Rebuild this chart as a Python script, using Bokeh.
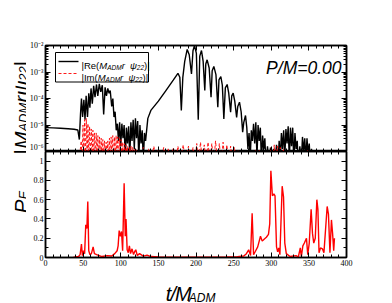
import math
from bokeh.plotting import figure
from bokeh.models import (Range1d, LinearAxis, LogAxis, FixedTicker, LogTicker,
                          CustomJSTickFormatter, Label, BoxAnnotation)
from bokeh.layouts import column, row
from bokeh.core.properties import value
from bokeh.embed import file_html
from bokeh.resources import INLINE

# ---------------- data ----------------
x_ticks = [0, 50, 100, 150, 200, 250, 300, 350, 400]
x_minor = [v for v in range(0, 401, 10)]
pe_ticks = [0, 0.2, 0.4, 0.6, 0.8, 1.0]
pe_minor = [0.1, 0.3, 0.5, 0.7, 0.9, 1.1]

# |Re(M r psi22)|  (t, log10 value)
t_re = [0, 10, 20, 30, 38, 43, 45, 46.5,
        47.8, 49.3, 51, 52.5, 54, 55.8, 57.5, 59, 60.5, 62.2, 64, 65.8, 67.8, 69.5,
        71.5, 73.5, 75.5, 77.3, 79.2, 81, 82.8, 84.5, 86, 88, 89.5, 91, 92.5, 94,
        95.5, 97, 98.5, 100, 101.5, 103, 104.5, 106, 107.5, 109, 110.5, 112, 113.5,
        115, 116.5, 118, 119.5, 121, 122.5, 124, 125.5, 127, 128.5, 130, 131.5, 133,
        136, 140, 150, 160, 170, 176, 178.5, 180.5, 182.5, 185, 188.3, 191, 194,
        196, 198, 200.5, 203, 205, 207.3, 209.5, 211.7, 213, 214.8, 217.5, 220,
        221.5, 223.7, 226.5, 229, 230.5, 233, 235, 237, 239, 241.4, 243.5, 246,
        247.5, 249.4, 251.5, 254, 255.5, 257.8, 260, 262, 263.5, 265.8, 267.5, 269,
        270.5, 272, 273.5, 275, 276.5, 278, 279.5, 281, 282.5, 284, 285.5, 287,
        288.5, 290, 291.5, 293, 295, 297, 299, 301, 303, 305, 307, 309, 310.5, 312,
        313.5, 315, 316.5, 318, 319.5, 321, 322.5, 324, 325.5, 327, 328.5, 330,
        331.5, 333, 334.5, 336, 338, 340, 341.5, 343, 344.5, 346, 347.5, 349, 350.5,
        352, 353.5, 355, 357, 359, 361]
log_re = [-5.10, -5.11, -5.12, -5.14, -5.16, -5.19, -5.55, -4.6,
          -4.0, -4.7, -4.05, -4.8, -3.9, -4.7, -3.8, -4.35, -3.62, -4.2, -3.52, -3.95, -3.47, -3.9,
          -3.45, -3.75, -3.5, -4.6, -3.58, -3.9, -3.62, -3.8, -3.7, -4.3, -4.0, -4.7, -4.5, -5.2,
          -4.95, -5.6, -4.9, -5.8, -4.95, -5.5, -5.0, -6.3, -5.1, -5.7, -5.05, -6.2, -4.9,
          -5.6, -4.8, -5.9, -4.75, -5.5, -4.85, -6.3, -5.0, -5.7, -5.2, -6.4, -5.3, -5.6,
          -4.75, -4.45, -4.1, -3.7, -3.3, -3.05, -3.2, -4.45, -3.2, -2.6, -2.15, -2.35, -3.07,
          -2.2, -2.0, -2.3, -4.8, -2.4, -2.19, -2.6, -3.7, -2.7, -2.54, -2.85, -3.95,
          -2.95, -2.79, -3.1, -4.33, -3.3, -3.17, -3.5, -4.77, -3.6, -3.47, -3.8, -4.52,
          -3.9, -3.8, -4.1, -4.71, -4.3, -4.14, -4.5, -5.27, -4.9, -4.64, -5.1, -5.9,
          -5.3, -6.3, -5.2, -5.6, -4.95, -5.7, -4.9, -6.2, -5.0, -5.6, -5.1, -6.4,
          -5.4, -5.9, -5.5, -6.5, -5.8, -6.4, -5.85, -6.5, -5.9, -6.4, -5.75, -6.5, -5.6, -6.3,
          -5.3, -5.9, -5.2, -6.2, -5.15, -5.7, -5.05, -6.3, -5.1, -5.8, -5.1, -6.4,
          -5.3, -5.9, -5.6, -6.5, -5.8, -6.4, -5.45, -6.0, -5.5, -6.3, -5.5, -6.1, -5.7,
          -6.5, -5.9, -6.5, -6.0, -6.6, -6.2]

# |Im(M r psi22)|  (t, log10 value)
t_im = [44, 47.5, 48.6, 49.8, 50.9, 52, 53.1, 54.2, 55.3, 56.4, 57.5, 58.6, 59.7,
        60.8, 61.9, 63, 64.1, 65.2, 66.3, 67.4, 68.5, 69.6, 70.7, 71.8, 72.9, 74,
        75.1, 76.2, 77.3, 78.4, 79.5, 80.6, 81.7, 82.8, 83.9, 85, 86.1, 87.2, 88.3,
        89.4, 90.5, 91.6, 92.7, 93.8, 94.9, 96, 97.1, 98.2, 99.3, 100.4, 101.5,
        102.6, 103.7, 104.8, 105.9, 107, 108.1, 109.2, 110.3, 111.4, 112.5, 113.6,
        114.7, 115.8, 116.9, 118, 119.1, 120.2, 121.3,
        127, 130, 133, 137, 140, 144, 147, 150, 153, 157, 160, 163, 166, 170, 173,
        176, 179, 183, 186, 190, 193, 196, 198.5, 201, 203.5, 206, 208.5, 211,
        213.5, 216, 218.5, 221, 223.5, 226, 228.5, 231, 233.5, 236, 238.5, 241,
        243.5, 246, 248.5, 251, 253.5, 256, 258.5,
        278, 280, 282, 284, 286, 298, 300, 302, 304, 306, 308, 310, 312, 314, 316,
        318, 347, 349, 351]
log_im = [-6.5, -5.6, -6.4, -5.0, -6.4, -4.8, -6.3, -4.75, -6.3, -4.95, -6.3, -5.05, -6.3,
          -5.15, -6.3, -5.2, -6.3, -5.3, -6.3, -5.3, -6.3, -5.4, -6.3, -5.45, -6.3, -5.5,
          -6.3, -5.55, -6.3, -5.6, -6.3, -5.65, -6.3, -5.6, -6.3, -5.5, -6.3, -5.45, -6.3,
          -5.4, -6.3, -5.45, -6.3, -5.4, -6.3, -5.45, -6.3, -5.5, -6.3, -5.55, -6.3,
          -5.65, -6.3, -5.7, -6.3, -5.75, -6.3, -5.8, -6.3, -5.85, -6.3, -5.8,
          -6.3, -5.85, -6.3, -5.9, -6.3, -5.9, -6.4,
          -6.4, -5.85, -6.4, -5.9, -6.4, -5.8, -6.4, -5.9, -6.4, -5.85, -6.4, -5.9, -6.4, -5.85, -6.4,
          -5.8, -6.4, -5.75, -6.4, -5.8, -6.4, -5.85, -6.4, -5.7, -6.4, -5.65, -6.4, -5.75,
          -6.4, -5.65, -6.4, -5.7, -6.4, -5.6, -6.4, -5.7, -6.4, -5.65, -6.4, -5.75,
          -6.4, -5.8, -6.4, -5.85, -6.4, -5.95, -6.4,
          -6.4, -5.9, -6.4, -5.95, -6.4, -6.4, -5.85, -6.4, -5.75, -6.4, -5.8, -6.4, -5.85, -6.4, -5.9,
          -6.4, -6.4, -5.95, -6.4]

# P_E
t_pe = [37, 40, 44, 46, 47.8, 49, 50.5, 52, 53.5, 55, 56.2, 57.5, 59, 61, 63.3, 65, 68,
        75, 82, 88, 92, 95.2, 96.5, 97.9, 99.5, 101, 102.5, 104.5, 106, 107, 108.5,
        110, 111.5, 113, 115, 117, 118.5, 120, 122, 125, 130, 135, 140, 150, 160,
        180, 200, 220, 240, 255, 263.5, 267, 270, 272.5, 274.6, 276.5, 278.6, 282,
        285.7, 288, 290.5, 293.5, 296.3, 298, 299.5, 301.5, 303.5, 305, 307, 308.5,
        310, 311.5, 314.5, 316.3, 318, 320, 325, 333, 336, 338.6, 340, 342, 344,
        346.8, 348.5, 350.5, 353, 354.8, 356.5, 358.5, 360.6, 362, 363.5, 365.5,
        368, 370, 374.3, 376, 378, 380, 381.5, 383, 384]
pe = [0.0, 0.005, 0.01, 0.03, 0.14, 0.02, 0.07, 0.04, 0.34, 0.30, 0.58, 0.07, 0.03, 0.04,
      0.11, 0.04, 0.03, 0.01, 0.02, 0.015, 0.04, 0.07, 0.12, 0.28, 0.22, 0.27, 0.07,
      0.77, 0.22, 0.40, 0.08, 0.05, 0.12, 0.04, 0.09, 0.03, 0.06, 0.08, 0.02, 0.04,
      0.015, 0.025, 0.01, 0.005, 0.003, 0.002, 0.003, 0.004, 0.005, 0.008, 0.015,
      0.04, 0.08, 0.02, 0.46, 0.03, 0.06, 0.11, 0.22, 0.17, 0.19, 0.21, 0.24, 0.35,
      0.90, 0.64, 0.66, 0.64, 0.11, 0.06, 0.10, 0.03, 0.74, 0.63, 0.15, 0.04, 0.01,
      0.02, 0.005, 0.10, 0.01, 0.12, 0.15, 0.20, 0.03, 0.15, 0.50, 0.25, 0.15, 0.20,
      0.60, 0.50, 0.05, 0.10, 0.09, 0.05, 0.53, 0.45, 0.05, 0.39, 0.25, 0.07, 0.20]

re_vals = [10 ** v for v in log_re]
im_vals = [10 ** v for v in log_im]

# ---------------- layout geometry (page px; page has no margin) ----------------
LW = 26          # width of the left strip holding the rotated axis titles
FL, FR = 45, 346
TT, TB = 45, 151
BT, BB = 151, 257
XMAX = 400
YB_MAX = 1.1
RB = 44          # right border
BOT_B = 15       # bottom border of lower panel (tick labels)
PAGE_H = 302

def xdat(px):
    return (px - FL) / (FR - FL) * XMAX

def ytop(py):
    return 10 ** (-2 - (py - TT) / (TB - TT) * 4)

WID = {'|': 0.26, 'R': 0.722, 'e': 0.556, '(': 0.333, ')': 0.333, 'M': 0.833,
       'A': 0.667, 'D': 0.722, ' ': 0.278, 'r': 0.333, 'ψ': 0.71, '2': 0.556,
       'I': 0.278, 'm': 0.833, 't': 0.278, '/': 0.278, 'P': 0.667, 'E': 0.667}

def twidth(s, size):
    return sum(WID.get(c, 0.556) for c in s) * size

def add_labels(fig, pieces, px0, py0, ymap):
    """horizontal rich text inside a plot frame, as Label annotations"""
    pos = px0
    for text, size, style, shift in pieces:
        fig.add_layout(Label(x=xdat(pos), y=ymap(py0 + shift), text=text,
                             text_font="Liberation Sans", text_font_style=style,
                             text_font_size=f"{size}px", text_align="left",
                             text_baseline="alphabetic", text_color="black"))
        pos += twidth(text, size)

def add_glyph_text(fig, pieces, px0, py0, rotated):
    """rich text drawn as text glyphs in a figure whose ranges are page pixels"""
    pos = py0 if rotated else px0
    for text, size, style, shift in pieces:
        if rotated:
            px, py = px0 + shift, pos
            pos -= twidth(text, size)
        else:
            px, py = pos, py0 + shift
            pos += twidth(text, size)
        fig.text(x=[px], y=[py], text=[text], text_font=value("Liberation Sans"),
                 text_font_style=style, text_font_size=value(f"{size}px"),
                 angle=(math.pi / 2 if rotated else 0), text_align="left",
                 text_baseline="alphabetic", text_color="black")

blank_fmt = CustomJSTickFormatter(code="return '';")

def style_axis(ax, labels):
    ax.axis_line_color = "black"
    ax.axis_line_width = 1.5
    ax.major_tick_in = 5
    ax.major_tick_out = 0
    ax.minor_tick_in = 3
    ax.minor_tick_out = 0
    ax.major_tick_line_color = "black"
    ax.minor_tick_line_color = "black"
    if labels:
        ax.major_label_text_font = "Liberation Serif"
        ax.major_label_text_font_size = "8px"
        ax.major_label_text_color = "black"
        ax.major_label_standoff = 2
    else:
        ax.formatter = blank_fmt
        ax.major_label_text_font_size = "1px"
        ax.major_label_text_alpha = 0
        ax.major_label_standoff = 0

sup_js = """
const s = {"-":"\u207b","0":"\u2070","1":"\u00b9","2":"\u00b2","3":"\u00b3","4":"\u2074",
           "5":"\u2075","6":"\u2076","7":"\u2077","8":"\u2078","9":"\u2079"};
const e = Math.round(Math.log10(tick));
return "10" + String(e).split("").map(c => s[c]).join("");
"""

ML = FL - LW
W = ML + (FR - FL) + RB

def bare(fig):
    fig.grid.visible = False
    fig.outline_line_color = None
    fig.background_fill_color = "white"
    fig.border_fill_color = "white"

# ---------------- left strip with the rotated axis titles ----------------
lab = figure(width=LW, height=PAGE_H, x_range=Range1d(0, LW), y_range=Range1d(PAGE_H, 0),
             output_backend="svg", toolbar_location=None,
             x_axis_location=None, y_axis_location=None,
             min_border_left=0, min_border_right=0, min_border_top=0, min_border_bottom=0)
bare(lab)
ylab_top = [("|", 21, "normal", 0), ("M", 21, "italic", 0), ("ADM", 13, "italic", 1.5),
            ("r", 21, "italic", 0), ("ψ", 21, "italic", 0), ("22", 13, "italic", 1.5),
            ("|", 21, "normal", 0)]
add_glyph_text(lab, ylab_top, 21.2, 154, True)
add_glyph_text(lab, [("P", 21, "italic", 0), ("E", 13, "italic", 1.5)], 21.2, 213, True)

# ---------------- top panel ----------------
p1 = figure(width=W, height=TB, x_range=Range1d(0, XMAX),
            y_range=Range1d(1e-6, 1e-2), y_axis_type="log",
            output_backend="svg", toolbar_location=None,
            min_border_left=ML, min_border_right=RB,
            min_border_top=TT, min_border_bottom=0)
p1.grid.visible = False
p1.outline_line_color = "black"
p1.outline_line_width = 1.5
p1.background_fill_color = "white"
p1.border_fill_color = "white"

style_axis(p1.xaxis[0], False)
p1.xaxis.ticker = FixedTicker(ticks=x_ticks, minor_ticks=x_minor)
p1.yaxis.ticker = LogTicker(num_minor_ticks=10)
p1.yaxis.formatter = CustomJSTickFormatter(code=sup_js)
style_axis(p1.yaxis[0], True)
p1.yaxis.major_label_standoff = 2
ax_top = LinearAxis(ticker=FixedTicker(ticks=x_ticks, minor_ticks=x_minor))
style_axis(ax_top, False)
p1.add_layout(ax_top, "above")
ax_right = LogAxis(ticker=LogTicker(num_minor_ticks=10))
style_axis(ax_right, False)
p1.add_layout(ax_right, "right")

p1.line(t_re, re_vals, line_color="black", line_width=1.4)
p1.line(t_im, im_vals, line_color="red", line_width=0.9, line_dash="3 2")

# legend
p1.add_layout(BoxAnnotation(left=xdat(55), right=xdat(148), top=ytop(52), bottom=ytop(81.5),
                            fill_color="white", fill_alpha=1.0, line_color="black",
                            line_width=1, line_alpha=1.0))
lr1 = p1.line([xdat(58), xdat(78)], [ytop(61), ytop(61)], line_color="black", line_width=1.4)
lr2 = p1.line([xdat(58), xdat(78)], [ytop(73), ytop(73)], line_color="red", line_width=0.9,
              line_dash="3 2")
lr1.level = "overlay"
lr2.level = "overlay"
leg_re = [("|Re(", 9.5, "normal", 0), ("M", 9.5, "italic", 0), ("ADM", 6.5, "italic", 2),
          (" r ", 9.5, "italic", 0), ("ψ", 9.5, "italic", 0), ("22", 6.5, "italic", 2),
          (")|", 9.5, "normal", 0)]
leg_im = [("|Im(", 9.5, "normal", 0)] + leg_re[1:]
add_labels(p1, leg_re, 81, 64.5, ytop)
add_labels(p1, leg_im, 81, 76.5, ytop)

p1.add_layout(Label(x=xdat(341), y=ytop(67), text="P/M=0.00", text_font="Liberation Sans",
                    text_font_style="italic", text_font_size="17.5px", text_align="right",
                    text_baseline="alphabetic", text_color="black"))

# ---------------- bottom panel ----------------
p2 = figure(width=W, height=(BB - BT) + BOT_B, x_range=p1.x_range,
            y_range=Range1d(0, YB_MAX),
            output_backend="svg", toolbar_location=None,
            min_border_left=ML, min_border_right=RB,
            min_border_top=0, min_border_bottom=BOT_B)
p2.grid.visible = False
p2.outline_line_color = "black"
p2.outline_line_width = 1.5
p2.background_fill_color = "white"
p2.border_fill_color = "white"

p2.xaxis.ticker = FixedTicker(ticks=x_ticks, minor_ticks=x_minor)
style_axis(p2.xaxis[0], True)
p2.xaxis.major_label_standoff = 2
p2.yaxis.ticker = FixedTicker(ticks=pe_ticks, minor_ticks=pe_minor)
p2.yaxis.formatter = CustomJSTickFormatter(code="return Number(tick.toFixed(1)).toString();")
style_axis(p2.yaxis[0], True)
ax_top2 = LinearAxis(ticker=FixedTicker(ticks=x_ticks, minor_ticks=x_minor))
style_axis(ax_top2, False)
p2.add_layout(ax_top2, "above")
ax_right2 = LinearAxis(ticker=FixedTicker(ticks=pe_ticks, minor_ticks=pe_minor))
style_axis(ax_right2, False)
p2.add_layout(ax_right2, "right")

p2.line(t_pe, pe, line_color="red", line_width=1.4)

# ---------------- strip below with the x axis title ----------------
XT = BB + BOT_B
xl = figure(width=W, height=PAGE_H - XT, x_range=Range1d(LW, LW + W),
            y_range=Range1d(PAGE_H, XT),
            output_backend="svg", toolbar_location=None,
            x_axis_location=None, y_axis_location=None,
            min_border_left=0, min_border_right=0, min_border_top=0, min_border_bottom=0)
bare(xl)
add_glyph_text(xl, [("t", 20, "italic", 0), ("/", 20, "italic", 0), ("M", 20, "italic", 0),
                    ("ADM", 12, "italic", 4)], 171.5, 293, False)

layout = row(lab, column(p1, p2, xl, spacing=0), spacing=0)
with open("out.html", "w", encoding="utf-8") as f:
    f.write(file_html(layout, INLINE))
